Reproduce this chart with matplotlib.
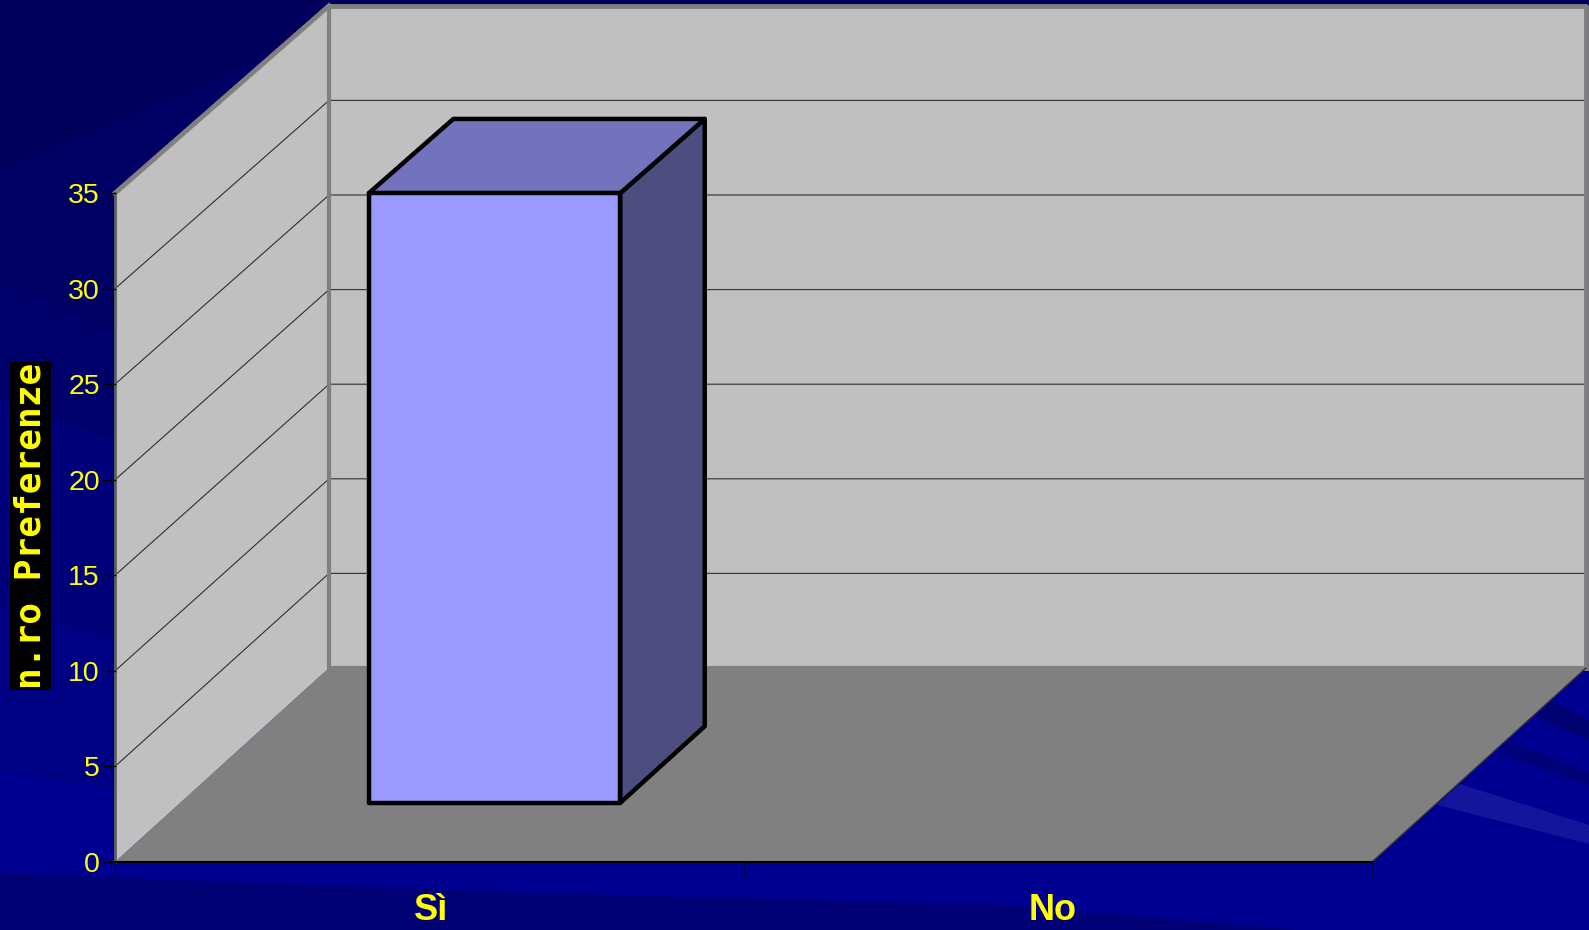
from matplotlib import pyplot as plt
from matplotlib.patches import Polygon, Rectangle

categories = ["Sì", "No"]
values = [32, 0]
y_ticks = [0, 5, 10, 15, 20, 25, 30, 35]
y_label = "n.ro Preferenze"

YELLOW = "#ffff00"

# Geometria della proiezione obliqua (pixel)
x0, y0 = 115, 862
cat_w = 628.5
unit_h = 19.11
unit_h_back = 18.92
depth_x, depth_y = 214, 194


def project(x, v, d=0.0):
    h = unit_h + d * (unit_h_back - unit_h)
    return x0 + x * cat_w + d * depth_x, y0 - v * h - d * depth_y


def face(ax, pts, color, **kw):
    ax.add_patch(Polygon([project(*p) for p in pts], closed=True, facecolor=color, **kw))


fig = plt.figure(figsize=(15.89, 9.30), dpi=100)
ax = fig.add_axes([0, 0, 1, 1])
ax.set_xlim(0, 1589)
ax.set_ylim(930, 0)
ax.axis("off")

# Sfondo a bande
ax.add_patch(Rectangle((0, 0), 1589, 930, color="#000090", zorder=0))
bands = [
    ([(0, 0), (700, 0), (1589, 0), (1589, 8), (330, 8), (115, 193), (0, 250)], "#00005c"),
    ([(0, 170), (260, 60), (330, 8), (115, 193), (115, 330), (0, 290)], "#000064"),
    ([(0, 280), (115, 330), (115, 440), (0, 400)], "#00006a"),
    ([(0, 400), (115, 440), (115, 640), (0, 610)], "#000078"),
    ([(0, 610), (115, 640), (115, 790), (0, 770)], "#000082"),
    ([(0, 873), (500, 892), (1000, 905), (1300, 930), (0, 930)], "#000074"),
    ([(1589, 720), (1589, 740), (1537, 717), (1553, 702)], "#00006e"),
    ([(1589, 772), (1589, 785), (1497, 753), (1510, 742)], "#000078"),
    ([(1589, 825), (1589, 844), (1437, 805), (1460, 784)], "#14149c"),
]
for pts, color in bands:
    ax.add_patch(Polygon(pts, closed=True, facecolor=color, edgecolor="none", zorder=1))

# Pareti e pavimento
n_cat = len(categories)
top = y_ticks[-1]
face(ax, [(0, 0, 0), (n_cat, 0, 0), (n_cat, 0, 1), (0, 0, 1)], "#808080", edgecolor="none", zorder=2)
face(ax, [(0, 0, 0), (0, 0, 1), (0, top, 1), (0, top, 0)], "#c0c0c0", edgecolor="none", zorder=2)
face(ax, [(0, 0, 1), (n_cat, 0, 1), (n_cat, top, 1), (0, top, 1)], "#c0c0c0", edgecolor="none", zorder=2)

# Griglia
for v in y_ticks[1:-1]:
    xs, ys = zip(project(0, v, 0), project(0, v, 1), project(n_cat, v, 1))
    ax.plot(xs, ys, color="#303030", lw=0.8, zorder=3)
xs, ys = zip(project(0, top, 0), project(0, top, 1))
ax.plot(xs, ys, color="#808080", lw=3.5, zorder=4)
xs, ys = zip(project(0, top, 1), project(n_cat, top, 1), project(n_cat, 0, 1))
ax.plot(xs, ys, color="#808080", lw=3.5, zorder=4)
xs, ys = zip(project(0, top, 1), project(0, 0, 1), project(n_cat, 0, 1))
ax.plot(xs, ys, color="#808080", lw=3, zorder=4)
xs, ys = zip(project(0, 0, 0), project(0, top, 0))
ax.plot(xs, ys, color="#606060", lw=2, zorder=4)
xs, ys = zip(project(n_cat, 0, 0), project(n_cat, 0, 1))
ax.plot(xs, ys, color="#303030", lw=1, zorder=4)
xs, ys = zip(project(0, 0, 0), project(n_cat, 0, 0))
ax.plot(xs, ys, color="#000000", lw=1.5, zorder=4)

# Barre
bar_w, d_front, d_back = 0.4, 0.305, 0.7
edge = dict(edgecolor="#000000", linewidth=3.2, joinstyle="round", zorder=6)
for i, v in enumerate(values):
    if v == 0:
        continue
    l = i + 0.5 - bar_w / 2
    r = i + 0.5 + bar_w / 2
    face(ax, [(r, 0, d_front), (r, 0, d_back), (r, v, d_back), (r, v, d_front)], "#4d4d80", **edge)
    face(ax, [(l, v, d_front), (r, v, d_front), (r, v, d_back), (l, v, d_back)], "#7373bd", **edge)
    face(ax, [(l, 0, d_front), (r, 0, d_front), (r, v, d_front), (l, v, d_front)], "#9999ff", **edge)

# Tacche ed etichette
for v in y_ticks:
    px, py = project(0, v)
    ax.plot([px - 12, px], [py, py], color="#000000", lw=1, zorder=5)
    ax.text(px - 15, py + 3, str(v), color=YELLOW, family="Liberation Sans", fontsize=20.5,
            ha="right", va="center", zorder=7)
for i in range(n_cat + 1):
    px, py = project(i, 0)
    ax.plot([px, px], [py, py + 14], color="#000040", lw=1, zorder=5)
for i, (name, nudge) in enumerate(zip(categories, [2, -5])):
    px, py = project(i + 0.5, 0)
    ax.text(px + nudge, py + 48, name, color=YELLOW, family="Liberation Sans", fontweight="bold",
            fontsize=26, ha="center", va="center", zorder=7)

# Titolo asse y su fondo nero
ax.add_patch(Rectangle((10, 362), 41, 328, facecolor="#000000", edgecolor="none", zorder=6))
ax.text(31, 526, y_label, color=YELLOW, family="DejaVu Sans Mono", fontweight="bold",
        fontsize=26, rotation=90, ha="center", va="center", zorder=7)

fig.savefig("out.png", dpi=100)
